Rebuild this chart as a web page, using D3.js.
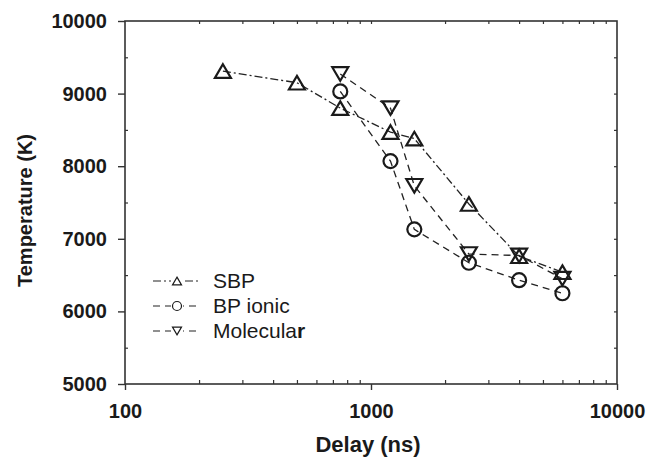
<!DOCTYPE html>
<html>
<head>
<meta charset="utf-8">
<script src="https://cdn.jsdelivr.net/npm/d3@7"></script>
<style>
  html, body { margin: 0; padding: 0; background: #fff; }
  svg { display: block; font-family: "Liberation Sans", Arial, Helvetica, sans-serif; }
</style>
</head>
<body>
<svg id="chart" width="646" height="458"></svg>
<script>
// ---- data ----
const sbpDelay = [250, 500, 750, 1200, 1500, 2500, 4000, 6000];
const sbpTemp = [9310, 9150, 8800, 8470, 8380, 7480, 6760, 6540];
const bpDelay = [750, 1200, 1500, 2500, 4000, 6000];
const bpTemp = [9030, 8070, 7130, 6670, 6430, 6250];
const molDelay = [750, 1200, 1500, 2500, 4000, 6000];
const molTemp = [9270, 8800, 7730, 6790, 6770, 6450];
const xMajorTicks = [100, 1000, 10000];
const yMajorTicks = [5000, 6000, 7000, 8000, 9000, 10000];
const seriesNames = ["SBP", "BP ionic", "Molecular"];

// ---- layout ----
const L = 125, R = 617, T = 21, B = 384;
const svg = d3.select("#chart");
const x = d3.scaleLog().domain([100, 10000]).range([L, R]);
const y = d3.scaleLinear().domain([5000, 10000]).range([B, T]);

const axisColor = "#333";
const minorX = [];
[100, 1000].forEach(d => { for (let k = 2; k <= 9; k++) minorX.push(d * k); });
const minorY = d3.range(5500, 10000, 1000);

// frame
svg.append("rect").attr("x", L).attr("y", T).attr("width", R - L).attr("height", B - T)
  .attr("fill", "none").attr("stroke", axisColor).attr("stroke-width", 1.6);

// bottom axis: major outward with labels
const gB = svg.append("g").attr("transform", `translate(0,${B})`)
  .call(d3.axisBottom(x).tickValues(xMajorTicks).tickFormat(d3.format("d")).tickSize(6).tickPadding(14));
gB.select(".domain").remove();
gB.selectAll("line").attr("stroke", axisColor).attr("stroke-width", 1.4);
gB.selectAll("text").attr("font-size", 20).attr("font-weight", "bold").attr("fill", "#1a1a1a");
// bottom minor inward
const gBm = svg.append("g").attr("transform", `translate(0,${B})`)
  .call(d3.axisBottom(x).tickValues(minorX).tickFormat("").tickSize(-4));
gBm.select(".domain").remove();
gBm.selectAll("line").attr("stroke", axisColor).attr("stroke-width", 1.2);
// top minor inward
const gT = svg.append("g").attr("transform", `translate(0,${T})`)
  .call(d3.axisTop(x).tickValues(minorX.concat([1000])).tickFormat("").tickSize(-3));
gT.select(".domain").remove();
gT.selectAll("line").attr("stroke", axisColor).attr("stroke-width", 1.2);

// left axis: major outward with labels
const gL = svg.append("g").attr("transform", `translate(${L},0)`)
  .call(d3.axisLeft(y).tickValues(yMajorTicks).tickFormat(d3.format("d")).tickSize(7).tickPadding(11));
gL.select(".domain").remove();
gL.selectAll("line").attr("stroke", axisColor).attr("stroke-width", 1.4);
gL.selectAll("text").attr("font-size", 20).attr("font-weight", "bold").attr("fill", "#1a1a1a");
const gLm = svg.append("g").attr("transform", `translate(${L},0)`)
  .call(d3.axisLeft(y).tickValues(minorY).tickFormat("").tickSize(-3));
gLm.select(".domain").remove();
gLm.selectAll("line").attr("stroke", axisColor).attr("stroke-width", 1.2);
// right axis inward
const gR = svg.append("g").attr("transform", `translate(${R},0)`)
  .call(d3.axisRight(y).tickValues(minorY.concat(yMajorTicks.slice(1, -1))).tickFormat("").tickSize(-3));
gR.select(".domain").remove();
gR.selectAll("line").attr("stroke", axisColor).attr("stroke-width", 1.2);

// axis titles
svg.append("text").attr("x", 368).attr("y", 452).attr("text-anchor", "middle")
  .attr("font-size", 22).attr("font-weight", "bold").attr("fill", "#1a1a1a").text("Delay (ns)");
svg.append("text").attr("transform", `translate(32,${(T + B) / 2 + 8}) rotate(-90)`)
  .attr("text-anchor", "middle").attr("font-size", 20).attr("font-weight", "bold")
  .attr("fill", "#1a1a1a").text("Temperature (K)");

// ---- series ----
const lineColor = "#222";
const dashDot = "8,3,2,3";
const dashed = "7,5";

function triUp(s) { const w = s, h = s * 0.85; return `M0,${-h / 2}L${w / 2},${h / 2}L${-w / 2},${h / 2}Z`; }
function triDown(s) { const w = s, h = s * 0.85; return `M0,${h / 2}L${w / 2},${-h / 2}L${-w / 2},${-h / 2}Z`; }
function circ(s) { const r = s / 2; return `M${r},0A${r},${r} 0 1,1 ${-r},0A${r},${r} 0 1,1 ${r},0Z`; }

const series = [
  { name: seriesNames[0], xs: sbpDelay, ys: sbpTemp, dash: dashDot, shape: triUp, size: 16 },
  { name: seriesNames[1], xs: bpDelay, ys: bpTemp, dash: dashed, shape: circ, size: 14 },
  { name: seriesNames[2], xs: molDelay, ys: molTemp, dash: dashed, shape: triDown, size: 16 }
];

const line = d3.line().x(d => x(d[0])).y(d => y(d[1]));
series.forEach(s => {
  const pts = s.xs.map((d, i) => [d, s.ys[i]]);
  svg.append("path").attr("d", line(pts)).attr("fill", "none")
    .attr("stroke", lineColor).attr("stroke-width", 1.3).attr("stroke-dasharray", s.dash);
  svg.append("g").selectAll("path").data(pts).join("path")
    .attr("transform", d => `translate(${x(d[0])},${y(d[1])})`)
    .attr("d", s.shape(s.size)).attr("fill", "none")
    .attr("stroke", "#1a1a1a").attr("stroke-width", 2.2);
});

// ---- legend ----
const legX0 = 153, legX1 = 200, legMid = 177, legTextX = 213;
series.forEach((s, i) => {
  const cy = 281 + i * 25;
  const g = svg.append("g");
  g.append("line").attr("x1", legX0).attr("x2", legX1).attr("y1", cy).attr("y2", cy)
    .attr("stroke", lineColor).attr("stroke-width", 1.1).attr("stroke-dasharray", s.dash);
  g.append("rect").attr("x", legMid - 6).attr("y", cy - 6).attr("width", 12).attr("height", 12).attr("fill", "#fff");
  g.append("path").attr("transform", `translate(${legMid},${cy})`).attr("d", s.shape(9))
    .attr("fill", "none").attr("stroke", "#1a1a1a").attr("stroke-width", 1.2);
  const t = g.append("text").attr("x", legTextX).attr("y", cy + 7).attr("font-size", 21).attr("fill", "#1a1a1a");
  if (s.name === "Molecular") {
    t.append("tspan").text("Molecula");
    t.append("tspan").attr("font-weight", "bold").text("r");
  } else {
    t.text(s.name);
  }
});
</script>
</body>
</html>
